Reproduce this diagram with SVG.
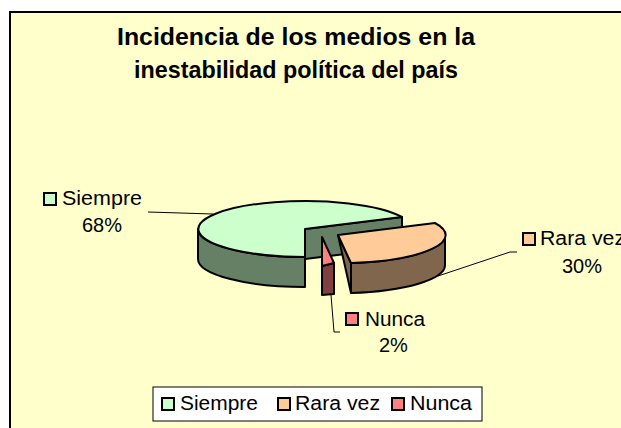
<svg xmlns="http://www.w3.org/2000/svg" width="621" height="428" viewBox="0 0 621 428">
<style>
.t{font-family:"Liberation Sans",Arial,sans-serif;font-size:20px;fill:#000}
.ttl{font-family:"Liberation Sans",Arial,sans-serif;font-size:24px;font-weight:bold;fill:#000;text-anchor:middle}
.pie{stroke:#000;stroke-width:2;stroke-linejoin:round}
.key{stroke:#000;stroke-width:2}
.lead{stroke:#000;stroke-width:1;fill:none}
</style>
<rect x="0" y="0" width="621" height="428" fill="#fff"/>
<rect id="chart-area" x="10" y="12" width="640" height="440" fill="#FFFFCC" stroke="#000" stroke-width="2"/>
<g id="title">
<text class="ttl" x="296" y="45" textLength="358" lengthAdjust="spacingAndGlyphs">Incidencia de los medios en la</text>
<text class="ttl" x="296" y="78" textLength="324" lengthAdjust="spacingAndGlyphs">inestabilidad política del país</text>
</g>
<g id="slice-siempre">
<path class="pie" fill="#668066" d="M198,229 A107,28 0 0,0 305,257 L305,287 A107,28 0 0,1 198,259 Z"/>
<path class="pie" fill="#668066" d="M305,229 L402,217 L402,247 L305,259 Z"/>
<path class="pie" fill="#CCFFCC" d="M305,229 L305,257 A107,28 0 1,1 402,217 Z"/>
</g>
<g id="slice-nunca">
<path class="pie" fill="#804040" d="M322,266 L334,263 L334,294 L322,295 Z"/>
<path class="pie" fill="#FF8080" d="M322,237 L334,263 L322,266 Z"/>
</g>
<g id="slice-rara-vez">
<path class="pie" fill="#80664C" d="M445,235 A107,28 0 0,1 351,263 L351,293 A107,28 0 0,0 445,265 Z"/>
<path class="pie" fill="#80664C" d="M338,235 L351,263 L351,293 Z"/>
<path class="pie" fill="#FFCC99" d="M338,235 L435,223 A107,28 0 0,1 351,263 Z"/>
</g>
<g id="connectors">
<path class="lead" d="M148,212 L213,214"/>
<path class="lead" d="M438,276 L510,252 L517,252"/>
<path class="lead" d="M331,295 L334,332 L340,332"/>
</g>
<g id="label-siempre">
<rect class="key" x="44" y="193" width="12" height="12" fill="#CCFFCC"/>
<text class="t" x="62" y="205" textLength="80" lengthAdjust="spacingAndGlyphs">Siempre</text>
<text class="t" x="82" y="232">68%</text>
</g>
<g id="label-rara-vez">
<rect class="key" x="523" y="233" width="12" height="12" fill="#FFCC99"/>
<text class="t" x="540" y="245" textLength="85" lengthAdjust="spacingAndGlyphs">Rara vez</text>
<text class="t" x="562" y="273">30%</text>
</g>
<g id="label-nunca">
<rect class="key" x="346" y="313" width="12" height="12" fill="#FF8080"/>
<text class="t" x="365" y="326" textLength="60" lengthAdjust="spacingAndGlyphs">Nunca</text>
<text class="t" x="379" y="352">2%</text>
</g>
<g id="legend">
<rect x="153" y="387" width="329" height="34" fill="#fff" stroke="#000" stroke-width="1"/>
<rect class="key" x="162" y="398" width="12" height="12" fill="#CCFFCC"/>
<text class="t" x="180" y="410" textLength="78" lengthAdjust="spacingAndGlyphs">Siempre</text>
<rect class="key" x="278" y="398" width="12" height="12" fill="#FFCC99"/>
<text class="t" x="295" y="410" textLength="85" lengthAdjust="spacingAndGlyphs">Rara vez</text>
<rect class="key" x="392" y="398" width="12" height="12" fill="#FF8080"/>
<text class="t" x="410" y="410" textLength="62" lengthAdjust="spacingAndGlyphs">Nunca</text>
</g>
</svg>
